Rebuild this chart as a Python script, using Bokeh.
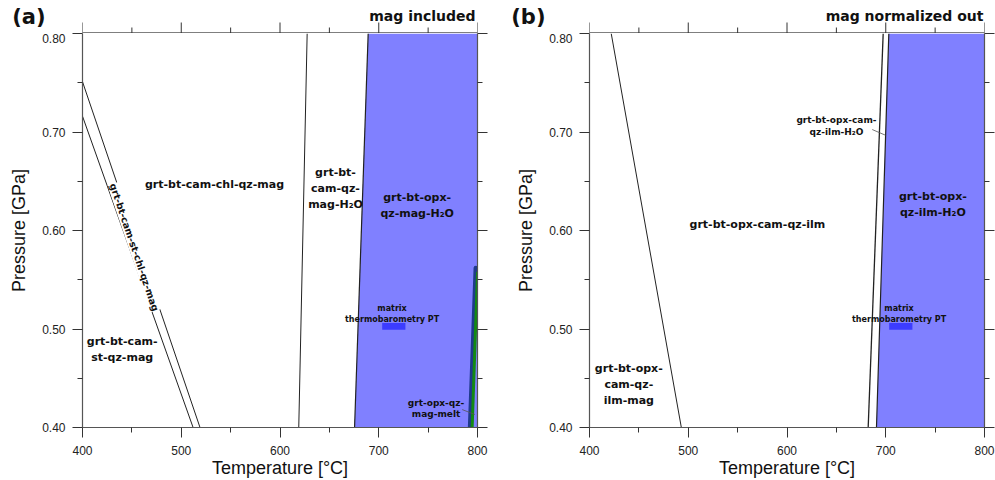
from bokeh.plotting import figure
from bokeh.models import (LinearAxis, Range1d, Label, NumeralTickFormatter,
                          ColumnDataSource, CustomJSTickFormatter, FixedTicker)
from bokeh.layouts import row, column
from bokeh.core.properties import value
from bokeh.embed import file_html
from bokeh.resources import INLINE

# ---------------- data: panel (a) mag included ----------------
a_line1_T = [400, 512]
a_line1_P = [0.716, 0.40]
a_line2_T = [400, 519]
a_line2_P = [0.751, 0.40]
a_line3_T = [619, 627.5]
a_line3_P = [0.40, 0.80]
a_field_T = [675.5, 689.3, 800, 800]
a_field_P = [0.40, 0.80, 0.80, 0.40]
a_melt_blue_T = [792.5, 798.3]
a_melt_blue_P = [0.40, 0.562]
a_melt_green_T = [794.6, 800.0]
a_melt_green_P = [0.40, 0.558]
a_leader_T = [784.5, 797.3]
a_leader_P = [0.4182, 0.4132]

a_label_text = ["grt-bt-cam-chl-qz-mag", "grt-bt-cam-\nst-qz-mag",
                "grt-bt-\ncam-qz-\nmag-H₂O", "grt-bt-opx-\nqz-mag-H₂O"]
a_label_T = [533.7, 440.2, 656.2, 738.9]
a_label_P = [0.647, 0.479, 0.643, 0.625]
a_small_text = ["grt-opx-qz-\nmag-melt"]
a_small_T = [758.0]
a_small_P = [0.419]
a_rot_text = "grt-bt-cam-st-chl-qz-mag"
a_rot_T = 452.5
a_rot_P = 0.583

# ---------------- data: panel (b) mag normalized out ----------------
b_line1_T = [422, 493]
b_line1_P = [0.80, 0.40]
b_line2_T = [682.2, 697.4]
b_line2_P = [0.40, 0.80]
b_field_T = [690.6, 703.1, 800, 800]
b_field_P = [0.40, 0.80, 0.80, 0.40]
b_leader_T = [686.3, 699.8]
b_leader_P = [0.7025, 0.6967]

b_label_text = ["grt-bt-opx-cam-qz-ilm", "grt-bt-opx-\ncam-qz-\nilm-mag",
                "grt-bt-opx-\nqz-ilm-H₂O"]
b_label_T = [570.0, 439.8, 747.7]
b_label_P = [0.6056, 0.4435, 0.626]
b_small_text = ["grt-bt-opx-cam-\nqz-ilm-H₂O"]
b_small_T = [650.1]
b_small_P = [0.7058]

# matrix thermobarometry PT box (both panels)
pt_T0 = [703.5]
pt_T1 = [727.0]
pt_P0 = [0.4992]
pt_P1 = [0.5062]
pt_text = ["matrix\nthermobarometry PT"]
pt_text_T = [713.5]
pt_text_P = [0.5155]

x_major = [400, 500, 600, 700, 800]
x_minor = [450, 550, 650, 750]
y_major = [0.40, 0.50, 0.60, 0.70, 0.80]
y_minor = [0.45, 0.55, 0.65, 0.75]

# header texts (panel tag, subtitle)
head_a = ["(a)", "mag included"]
head_b = ["(b)", "mag normalized out"]

T_MIN, T_MAX = 400, 800
P_MIN, P_MAX = 0.40, 0.80

BOLD = value("DejaVu Sans")
LINE_C = "#222222"
FIELD_C = "#8080ff"
AXIS_C = "#555555"
TICK_C = "#333333"
HEAD_H = 33


def style_axis(ax, labels=True):
    ax.axis_line_color = AXIS_C
    ax.axis_line_width = 1.2
    ax.major_tick_line_color = TICK_C
    ax.minor_tick_line_color = TICK_C
    ax.major_tick_out = 10
    ax.major_tick_in = 0
    ax.minor_tick_out = 5
    ax.minor_tick_in = 0
    ax.major_label_text_font = "Liberation Sans"
    ax.major_label_text_font_size = "12px"
    ax.major_label_text_color = "#222222"
    ax.axis_label_text_font = "Liberation Sans"
    ax.axis_label_text_font_size = "18px"
    ax.axis_label_text_font_style = "normal"
    ax.axis_label_text_color = "#111111"
    if not labels:
        ax.formatter = CustomJSTickFormatter(code="return '';")
        ax.major_label_standoff = 0


def make_fig(width, left, right):
    p = figure(width=width, height=480 - HEAD_H, x_range=Range1d(T_MIN, T_MAX),
               y_range=Range1d(P_MIN, P_MAX), output_backend="svg",
               toolbar_location=None, min_border_left=left,
               min_border_right=right, min_border_top=0,
               min_border_bottom=52, x_axis_label="Temperature [°C]",
               y_axis_label="Pressure [GPa]", title=None)
    p.grid.visible = False
    p.outline_line_color = None
    p.background_fill_color = "white"
    p.border_fill_color = "white"
    p.xaxis.ticker = FixedTicker(ticks=x_major, minor_ticks=x_minor)
    p.yaxis.ticker = FixedTicker(ticks=y_major, minor_ticks=y_minor)
    p.xaxis.formatter = NumeralTickFormatter(format="0")
    p.yaxis.formatter = NumeralTickFormatter(format="0.00")
    for ax in p.xaxis:
        style_axis(ax)
        ax.major_label_standoff = 8
        ax.axis_label_standoff = 0
    for ax in p.yaxis:
        style_axis(ax)
        ax.major_label_standoff = 7
        ax.axis_label_standoff = 10
    rt = LinearAxis(ticker=FixedTicker(ticks=y_major, minor_ticks=y_minor))
    style_axis(rt, labels=False)
    p.add_layout(rt, "right")
    return p


def make_head(width, left, right, texts, tag_standoff, sub_x):
    # header strip: its frame lines up with the panel frame below it
    h = figure(width=width, height=HEAD_H, x_range=Range1d(T_MIN, T_MAX),
               y_range=Range1d(0, HEAD_H), output_backend="svg",
               toolbar_location=None, min_border_left=left,
               min_border_right=right, min_border_top=0, min_border_bottom=0,
               title=None)
    h.grid.visible = False
    h.outline_line_color = None
    h.background_fill_color = "white"
    h.border_fill_color = "white"
    h.xaxis.visible = False
    yax = h.yaxis[0]
    yax.ticker = FixedTicker(ticks=[])
    yax.axis_line_color = None
    yax.major_tick_line_color = None
    yax.minor_tick_line_color = None
    yax.major_tick_out = 0
    yax.major_tick_in = 0
    yax.minor_tick_out = 0
    yax.minor_tick_in = 0
    yax.major_label_standoff = 0
    yax.axis_label = texts[0]
    yax.axis_label_orientation = "horizontal"
    yax.axis_label_text_font = "DejaVu Sans"
    yax.axis_label_text_font_style = "bold"
    yax.axis_label_text_font_size = "21px"
    yax.axis_label_text_color = "#111111"
    yax.axis_label_standoff = tag_standoff
    # top axis of the panel: line + outward ticks
    h.segment(x0=[T_MIN], y0=[0.6], x1=[T_MAX], y1=[0.6], line_color=AXIS_C,
              line_width=1.2)
    h.segment(x0=x_major, y0=[0] * len(x_major), x1=x_major,
              y1=[11] * len(x_major), line_color=TICK_C, line_width=1)
    h.segment(x0=x_minor, y0=[0] * len(x_minor), x1=x_minor,
              y1=[6] * len(x_minor), line_color=TICK_C, line_width=1)
    h.text(x=[sub_x], y=[HEAD_H - 15], text=[texts[1]], text_font=BOLD,
           text_font_style="bold", text_font_size=value("14px"),
           text_align="right", text_baseline="middle", text_color="#111111")
    return h


def add_labels(p, texts, xs, ys, size, lh):
    src = ColumnDataSource(dict(x=xs, y=ys, text=texts))
    p.text(x="x", y="y", text="text", source=src, text_font=BOLD,
           text_font_style="bold", text_font_size=value(size),
           text_align="center", text_baseline="middle",
           text_line_height=lh, text_color="#111111")


def add_pt(p):
    p.quad(left=pt_T0, right=pt_T1, bottom=pt_P0, top=pt_P1,
           fill_color="#3c3cff", line_color=None)
    add_labels(p, pt_text, pt_text_T, pt_text_P, "8px", 1.25)


# ---------------- panel (a) ----------------
pa = make_fig(500, 82, 23)
pa.patch(a_field_T, a_field_P, fill_color=FIELD_C, line_color=None)
pa.line(a_field_T[:2], a_field_P[:2], line_color=LINE_C, line_width=1.2)
pa.line(a_line1_T, a_line1_P, line_color=LINE_C, line_width=1)
pa.line(a_line2_T, a_line2_P, line_color=LINE_C, line_width=1)
pa.line(a_line3_T, a_line3_P, line_color=LINE_C, line_width=1)
pa.line(a_melt_blue_T, a_melt_blue_P, line_color="#1f3a8c", line_width=4.5,
        line_cap="round")
pa.line(a_melt_green_T, a_melt_green_P, line_color="#138a13", line_width=3)
pa.line(a_leader_T, a_leader_P, line_color="#555555", line_width=0.8)
add_pt(pa)
add_labels(pa, a_label_text, a_label_T, a_label_P, "11px", 1.23)
add_labels(pa, a_small_text, a_small_T, a_small_P, "9px", 1.1)
pa.add_layout(Label(x=a_rot_T, y=a_rot_P, text=a_rot_text, angle=-1.2440,
                    text_font="DejaVu Sans", text_font_style="bold",
                    text_font_size="9.5px", text_align="center",
                    text_baseline="middle", text_color="#111111",
                    background_fill_color="white", background_fill_alpha=1.0))
ha = make_head(500, 82, 23, head_a, 37, 798)

# ---------------- panel (b) ----------------
pb = make_fig(495, 89, 11)
pb.patch(b_field_T, b_field_P, fill_color=FIELD_C, line_color=None)
pb.line(b_field_T[:2], b_field_P[:2], line_color=LINE_C, line_width=1.2)
pb.line(b_line1_T, b_line1_P, line_color=LINE_C, line_width=1)
pb.line(b_line2_T, b_line2_P, line_color=LINE_C, line_width=1.3)
pb.line(b_leader_T, b_leader_P, line_color="#555555", line_width=0.8)
add_pt(pb)
add_labels(pb, b_label_text, b_label_T, b_label_P, "11px", 1.23)
add_labels(pb, b_small_text, b_small_T, b_small_P, "9px", 1.2)
hb = make_head(495, 89, 11, head_b, 44, 799)

layout = row(column(ha, pa), column(hb, pb))
open("out.html", "w").write(file_html(layout, INLINE))
